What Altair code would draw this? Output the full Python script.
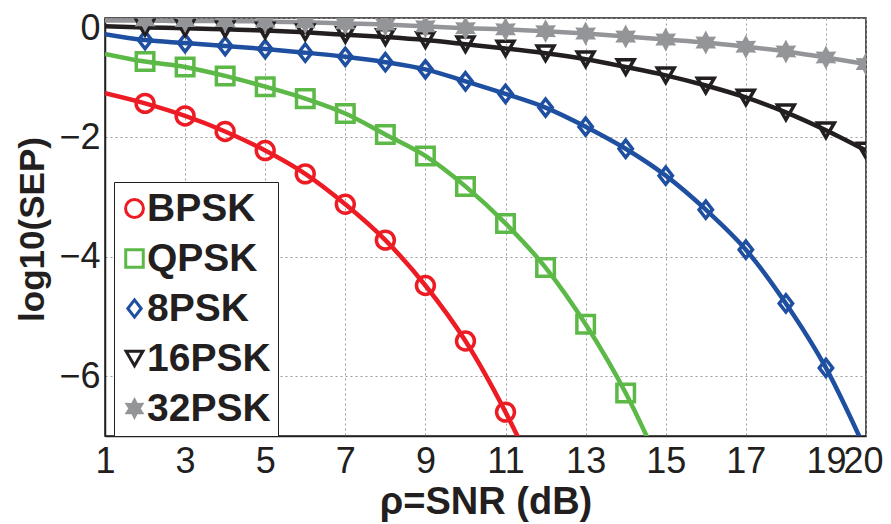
import math
import altair as alt
import pandas as pd

# ---- data ----
SNR = list(range(1, 21))
SERIES = ["BPSK", "QPSK", "8PSK", "16PSK", "32PSK"]
# log10(SEP) at SNR = 1, 2, ... (last value of short series lies below the axis so the curve exits the frame)
BPSK = [-1.26, -1.43, -1.64, -1.90, -2.22, -2.61, -3.12, -3.72, -4.48, -5.41, -6.60, -8.00]
QPSK = [-0.60, -0.73, -0.82, -0.97, -1.15, -1.35, -1.60, -1.95, -2.31, -2.82, -3.44, -4.18,
        -5.13, -6.28, -7.70]
PSK8 = [-0.27, -0.37, -0.42, -0.47, -0.52, -0.58, -0.65, -0.74, -0.86, -1.06, -1.27, -1.50,
        -1.82, -2.19, -2.64, -3.21, -3.88, -4.78, -5.86, -7.25]
PSK16 = [-0.14, -0.16, -0.17, -0.19, -0.21, -0.24, -0.28, -0.32, -0.37, -0.44, -0.51, -0.59,
         -0.69, -0.82, -0.96, -1.13, -1.33, -1.58, -1.88, -2.22]
PSK32 = [-0.04, -0.04, -0.05, -0.05, -0.06, -0.07, -0.09, -0.11, -0.14, -0.17, -0.19, -0.22,
         -0.26, -0.31, -0.36, -0.41, -0.48, -0.56, -0.66, -0.77]
X_TICKS = [1, 3, 5, 7, 9, 11, 13, 15, 17, 19, 20]
Y_TICKS = [0, -2, -4, -6]

values = {"BPSK": BPSK, "QPSK": QPSK, "8PSK": PSK8, "16PSK": PSK16, "32PSK": PSK32}
rows = []
for s in SERIES:
    for x, y in zip(SNR, values[s]):
        rows.append({"snr": x, "sep": y, "series": s})
df = pd.DataFrame(rows)

# ---- styles ----
COLORS = ["#ED1C24", "#5DB947", "#1F4FA0", "#231F20", "#939598"]
FILLS = ["transparent", "transparent", "transparent", "transparent", "#939598"]
pts = []
for k in range(12):
    r = 1.0 if k % 2 == 0 else 0.55
    a = math.radians(-90 + 30 * k)
    pts.append(f"{r * math.cos(a):.3f},{r * math.sin(a):.3f}")
STAR = "M" + "L".join(pts) + "Z"
DIAMOND = "M0,-1L0.78,0L0,1L-0.78,0Z"
SHAPES = ["circle", "square", DIAMOND, "triangle-down", STAR]
SIZES = [320, 270, 450, 560, 600]

FONT = "Liberation Sans"

x_enc = alt.X("snr:Q", scale=alt.Scale(domain=[1, 20], nice=False, zero=False),
              axis=alt.Axis(values=X_TICKS, title="ρ=SNR (dB)", format="d",
                            labelOverlap=False, labelFlush=False,
                            labelOffset={"condition": {"test": "datum.value == 20", "value": -3},
                                         "value": 0},
                            titleY=47, titleBaseline="top", titleFontSize=38))
y_enc = alt.Y("sep:Q", scale=alt.Scale(domain=[-7, 0], nice=False, zero=False),
              axis=alt.Axis(values=Y_TICKS, title="log10(SEP)", format="d",
                            labelFlush=True, labelFlushOffset=7,
                            titleX=-73, titleY=211, titleFontSize=35,
                            titleBaseline="middle", titleAngle=270))

LEG = alt.Legend(title=None, orient="none", legendX=9, legendY=164)
stroke_scale = alt.Scale(domain=SERIES, range=COLORS)

lines = alt.Chart(df).mark_line(
    strokeWidth=4.5, interpolate="monotone", clip=True
).encode(
    x=x_enc, y=y_enc,
    stroke=alt.Stroke("series:N", scale=stroke_scale, legend=LEG),
    detail="series:N",
    order=alt.Order("snr:Q"),
)

points = alt.Chart(df).transform_filter(
    (alt.datum.snr >= 2) & (alt.datum.sep >= -7)
).mark_point(
    filled=False, strokeWidth=3.5, opacity=1, clip=True
).encode(
    x=x_enc, y=y_enc,
    stroke=alt.Stroke("series:N", scale=stroke_scale, legend=LEG),
    shape=alt.Shape("series:N", scale=alt.Scale(domain=SERIES, range=SHAPES), legend=LEG),
    fill=alt.Fill("series:N", scale=alt.Scale(domain=SERIES, range=FILLS), legend=LEG),
    size=alt.Size("series:N", scale=alt.Scale(domain=SERIES, range=SIZES), legend=LEG),
)

chart = alt.layer(lines, points).properties(
    width=761, height=418,
    autosize=alt.AutoSizeParams(type="none"),
    padding={"left": 97, "top": 10, "right": 17, "bottom": 100},
).configure_view(
    stroke="#231F20", strokeWidth=1.5
).configure_axis(
    labelFont=FONT, labelFontSize=36, labelColor="#231F20",
    titleFont=FONT, titleFontWeight="bold", titleColor="#231F20",
    ticks=False, labelPadding=8,
    domainColor="#231F20", domainWidth=1.5,
    grid=True, gridColor="#9a9a9a", gridDash=[2, 3], gridWidth=1, gridOpacity=1,
).configure_axisY(
    labelPadding=5
).configure_legend(
    labelFont=FONT, labelFontSize=39, labelFontWeight="bold", labelColor="#231F20",
    padding=7, strokeColor="#231F20", fillColor="white", cornerRadius=0,
    symbolStrokeWidth=3, rowPadding=10, labelOffset={"expr": "-7"},
    symbolOffset={"expr": "-6"},
    symbolOpacity=1,
)

chart.save("out.html", embed_options={"renderer": "svg", "actions": False})
